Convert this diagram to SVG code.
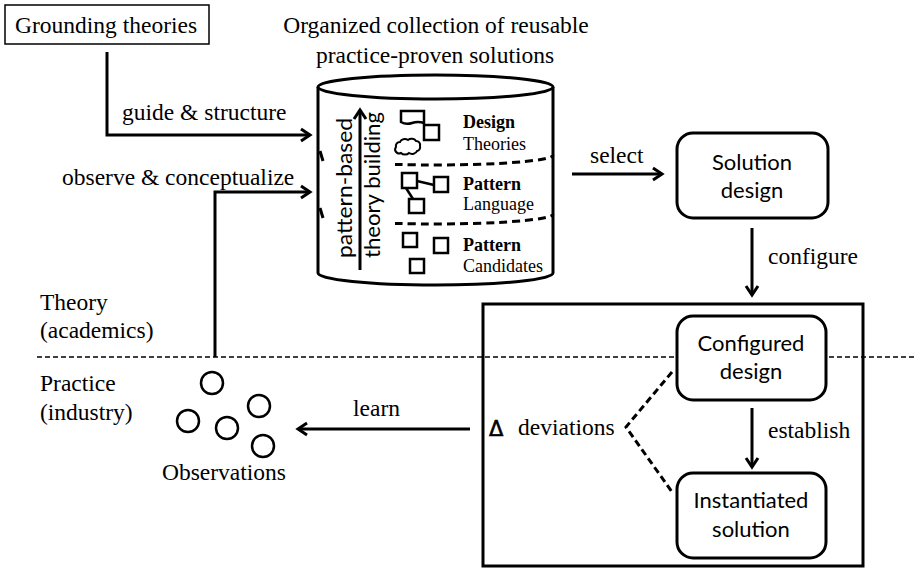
<svg xmlns="http://www.w3.org/2000/svg" width="915" height="568" viewBox="0 0 915 568">
<style>
.serif{font-family:"Liberation Serif","Times New Roman",serif;font-size:23.5px;fill:#000}
.small{font-family:"Liberation Serif","Times New Roman",serif;font-size:18px;fill:#000}
.sans{font-family:Lato,"Liberation Sans",sans-serif;font-size:22px;fill:#000;text-anchor:middle}
.box{fill:#fff;stroke:#000;stroke-width:3}
.ln{fill:none;stroke:#000;stroke-width:3}
.icon{fill:none;stroke:#000;stroke-width:2.5}
.dash{fill:none;stroke:#000;stroke-width:3;stroke-dasharray:8 5}
</style>
<defs>
<marker id="arr" markerUnits="userSpaceOnUse" markerWidth="16" markerHeight="16" refX="12" refY="8" orient="auto">
<path d="M3,2 L12,8 L3,14" fill="none" stroke="#000" stroke-width="3"/>
</marker>
</defs>

<line x1="37" y1="357" x2="915" y2="357" stroke="#000" stroke-width="1.5" stroke-dasharray="5 3"/>

<g id="grounding">
<rect x="5" y="5" width="204" height="39" fill="#fff" stroke="#000" stroke-width="1.5"/>
<text class="serif" x="15" y="33">Grounding theories</text>
</g>

<g id="repository">
<text class="serif" x="436" y="33" text-anchor="middle">Organized collection of reusable</text>
<text class="serif" x="435" y="63" text-anchor="middle">practice-proven solutions</text>
<path d="M318,87 V273 A117.5,12 0 0 0 553,273 V87" class="box"/>
<ellipse cx="435.5" cy="87" rx="117.5" ry="12" class="box"/>
<path d="M395,164.4 A117.5,10 0 0 0 553,155" class="dash"/>
<path d="M320,151 Q321.5,156 323,161" class="ln" stroke-width="2.5"/>
<path d="M395,223.4 A117.5,10 0 0 0 553,214" class="dash"/>
<path d="M320,208 Q321.5,213 323,218" class="ln" stroke-width="2.5"/>
<text class="sans" transform="translate(352,188) rotate(-90)" textLength="140" lengthAdjust="spacingAndGlyphs" font-size="21">pattern-based</text>
<text class="sans" transform="translate(380,185) rotate(-90)" textLength="146" lengthAdjust="spacingAndGlyphs" font-size="21">theory building</text>
<path d="M401,111 H424 V123 Q418,121 412,123 Q406,125 401,122 Z" class="icon"/>
<rect x="424" y="125" width="15" height="15" class="icon"/>
<path d="M396,147 a4,4 0 0 1 4,-5 a5,4 0 0 1 8,-2 a5,4 0 0 1 8,1 a4,4 0 0 1 4,5 a4,4 0 0 1 -3,5 a5,4 0 0 1 -8,2 a5,4 0 0 1 -8,0 a4,4 0 0 1 -5,-6 z" fill="none" stroke="#000" stroke-width="2"/>
<rect x="402" y="173" width="15" height="15" class="icon"/>
<rect x="434" y="177" width="14" height="15" class="icon"/>
<rect x="409" y="199" width="15" height="14" class="icon"/>
<line x1="417" y1="181" x2="434" y2="185" class="icon"/>
<line x1="406" y1="188" x2="413" y2="199" class="icon"/>
<rect x="403" y="233" width="14" height="14" class="icon"/>
<rect x="434" y="238" width="14" height="15" class="icon"/>
<rect x="410" y="259" width="14" height="14" class="icon"/>
<text class="small" x="463" y="128" font-weight="bold">Design</text>
<text class="small" x="463" y="150">Theories</text>
<text class="small" x="463" y="190" font-weight="bold">Pattern</text>
<text class="small" x="463" y="210">Language</text>
<text class="small" x="463" y="251" font-weight="bold">Pattern</text>
<text class="small" x="463" y="272">Candidates</text>
</g>

<g id="solution-design">
<rect x="677" y="133" width="151" height="85" rx="16" class="box"/>
<text class="sans" x="752" y="170">Solution</text>
<text class="sans" x="752" y="198">design</text>
</g>

<g id="instance-frame">
<rect x="483" y="304" width="380" height="262" fill="none" stroke="#000" stroke-width="3"/>
</g>

<g id="configured-design">
<rect x="677" y="316" width="149" height="84" rx="16" class="box"/>
<text class="sans" x="751" y="351">Configured</text>
<text class="sans" x="751" y="379">design</text>
</g>

<g id="instantiated-solution">
<rect x="677" y="473" width="149" height="85" rx="16" class="box"/>
<text class="sans" x="751" y="508">Instantiated</text>
<text class="sans" x="751" y="537">solution</text>
</g>

<g id="deviations">
<text x="489" y="436" font-family="DejaVu Sans,sans-serif" font-size="21" stroke="#000" stroke-width="0.6">Δ</text>
<text class="serif" x="518" y="435">deviations</text>
</g>

<g id="observations">
<circle cx="212" cy="383" r="11" class="icon"/>
<circle cx="259" cy="406" r="11" class="icon"/>
<circle cx="188" cy="421" r="11" class="icon"/>
<circle cx="227" cy="428" r="11" class="icon"/>
<circle cx="263" cy="446" r="11" class="icon"/>
<text class="serif" x="162" y="480">Observations</text>
</g>

<g id="realm-labels">
<text class="serif" x="40" y="310">Theory</text>
<text class="serif" x="40" y="338">(academics)</text>
<text class="serif" x="40" y="391">Practice</text>
<text class="serif" x="40" y="420">(industry)</text>
</g>

<g id="connectors">
<path d="M107,52 V135 H310" class="ln" marker-end="url(#arr)"/>
<path d="M215,357 V192 H310" class="ln" marker-end="url(#arr)"/>
<path d="M360,270 V110" class="ln" stroke-width="2.5" marker-end="url(#arr)"/>
<path d="M572,174 H662" class="ln" marker-end="url(#arr)"/>
<path d="M752,228 V295" class="ln" marker-end="url(#arr)"/>
<path d="M752,408 V467" class="ln" marker-end="url(#arr)"/>
<path d="M470,429 H298" class="ln" marker-end="url(#arr)"/>
<path d="M672,372 L626,427 L672,492" fill="none" stroke="#000" stroke-width="3" stroke-dasharray="7 4"/>
<text class="serif" x="122" y="120">guide &amp; structure</text>
<text class="serif" x="62" y="185">observe &amp; conceptualize</text>
<text class="serif" x="590" y="163">select</text>
<text class="serif" x="768" y="264">configure</text>
<text class="serif" x="768" y="438">establish</text>
<text class="serif" x="353" y="416">learn</text>
</g>
</svg>
